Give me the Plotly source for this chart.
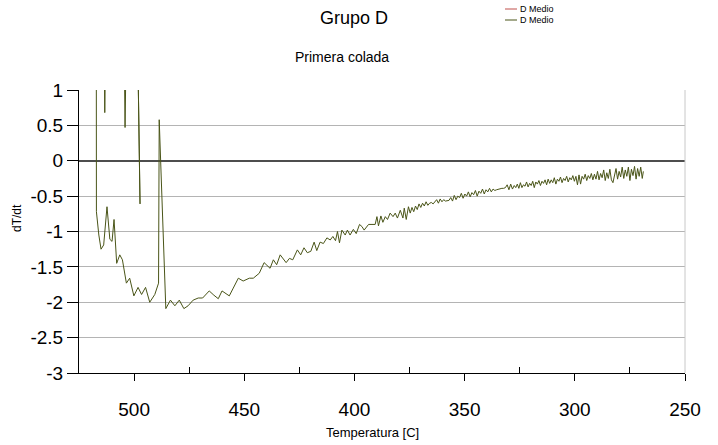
import plotly.graph_objects as go

# ---------------- data ----------------
temperatura = [
    499.0, 497.7, 497.3, 497.9, 499.5,
    503.0, 504.1, 504.9,
    512.6, 513.3, 513.9,
    517.2,
    517.1, 516.0, 515.0, 513.8, 512.3, 511.0, 510.0, 509.1, 507.9, 506.5,
    505.3, 503.5, 502.0, 500.1, 498.2, 496.6, 494.8, 492.9, 490.6, 488.9,
    488.6, 485.6, 483.5, 481.5, 479.5, 477.4, 475.5, 473.2, 470.9, 468.9,
    465.9, 463.8, 461.8, 460.1, 456.8, 455.0, 452.7, 450.5, 447.7, 445.9,
    443.2, 441.0, 438.3, 436.8, 435.3, 433.7, 431.0, 429.5, 428.0, 425.9,
    424.4, 422.9, 421.4, 419.8, 418.3, 417.1, 415.6, 414.1, 412.5, 411.0,
    409.8, 408.6, 407.7, 406.8, 405.7, 404.2, 403.2, 402.0, 400.5, 399.2,
    397.7, 396.6, 395.6, 393.6, 390.6, 389.8, 389.1, 388.0, 387.1, 386.0,
    385.0, 383.8, 382.5, 381.5, 380.5, 379.2, 378.0, 377.4, 376.5, 375.5,
    374.7,
    373.9, 373.1, 372.3, 371.5, 370.7, 369.9, 369.1, 368.3, 367.5, 366.7,
    365.9, 365.1, 364.3, 363.5, 362.7, 361.9, 361.1, 360.3, 359.5, 358.7,
    357.9, 357.1, 356.3, 355.5, 354.7, 353.9, 353.1, 352.3, 351.5, 350.7,
    349.9, 349.1, 348.3, 347.5, 346.7, 345.9, 345.1, 344.3, 343.5, 342.7,
    341.9, 341.1, 340.3, 339.5, 338.7, 337.9, 337.1, 336.3, 335.5, 334.7,
    333.9, 333.1, 332.3, 331.5, 330.7, 329.9, 329.1, 328.3, 327.5, 326.8,
    326.1, 325.4, 324.7, 324.0, 323.3, 322.6, 321.9, 321.2, 320.5, 319.8,
    319.1, 318.4, 317.7, 317.0, 316.3, 315.6, 314.9, 314.2, 313.5, 312.8,
    312.1, 311.4, 310.7, 310.0, 309.3, 308.6, 307.9, 307.2, 306.5, 305.8,
    305.1, 304.4, 303.7, 303.0, 302.3, 301.6, 300.9, 300.2, 299.5, 298.8,
    298.1, 297.4, 296.7, 296.0, 295.3, 294.6, 293.9, 293.2, 292.5, 291.8,
    291.1, 290.4, 289.7, 289.0, 288.3, 287.6, 286.9, 286.2, 285.5, 284.8,
    284.1, 283.4, 282.7, 282.0, 281.3, 280.6, 279.9, 279.2, 278.5, 277.8,
    277.1, 276.4, 275.7, 275.0, 274.3, 273.6, 272.9, 272.2, 271.5, 270.8,
    270.1, 269.4, 268.9,
]

dT_dt = [
    3.0, 0.60, -0.61, 0.80, 4.0,
    3.0, 0.47, 2.8,
    2.6, 0.68, 2.6,
    4.0,
    -0.72, -1.05, -1.25, -1.19, -0.65, -1.11, -1.14, -0.83, -1.45, -1.33,
    -1.40, -1.73, -1.66, -1.91, -1.79, -1.89, -1.79, -2.00, -1.89, -1.73,
    0.58, -2.09, -1.97, -2.05, -1.97, -2.09, -2.05, -1.97, -1.94, -1.94,
    -1.84, -1.90, -1.95, -1.84, -1.91, -1.80, -1.66, -1.70, -1.66, -1.66,
    -1.59, -1.44, -1.52, -1.40, -1.47, -1.33, -1.44, -1.38, -1.40, -1.26,
    -1.33, -1.23, -1.30, -1.28, -1.15, -1.27, -1.15, -1.17, -1.09, -1.12,
    -1.07, -1.13, -1.00, -1.16, -0.98, -1.05, -0.98, -1.05, -0.97, -1.03,
    -0.90, -0.93, -0.98, -0.90, -0.90, -0.79, -0.92, -0.78, -0.87, -0.79,
    -0.83, -0.74, -0.79, -0.74, -0.81, -0.70, -0.81, -0.67, -0.83, -0.65,
    -0.74,
    -0.66, -0.72, -0.64, -0.69, -0.61, -0.66, -0.60, -0.64, -0.58, -0.63,
    -0.60, -0.59, -0.61, -0.58, -0.55, -0.60, -0.54, -0.58, -0.55, -0.57,
    -0.57, -0.56, -0.52, -0.57, -0.49, -0.55, -0.50, -0.52, -0.46, -0.53,
    -0.47, -0.50, -0.44, -0.51, -0.45, -0.48, -0.42, -0.50, -0.43, -0.46,
    -0.40, -0.47, -0.41, -0.44, -0.39, -0.44, -0.40, -0.42, -0.41, -0.40,
    -0.40, -0.39, -0.39, -0.38, -0.34, -0.41, -0.33, -0.40, -0.35, -0.38,
    -0.33, -0.39, -0.31, -0.38, -0.34, -0.36, -0.30, -0.37, -0.32, -0.35,
    -0.29, -0.38, -0.30, -0.33, -0.28, -0.35, -0.29, -0.32, -0.27, -0.34,
    -0.26, -0.32, -0.27, -0.31, -0.24, -0.33, -0.26, -0.29, -0.23, -0.31,
    -0.25, -0.28, -0.22, -0.30, -0.24, -0.27, -0.21, -0.29, -0.22, -0.34,
    -0.20, -0.33, -0.22, -0.26, -0.19, -0.28, -0.21, -0.25, -0.18, -0.27,
    -0.19, -0.26, -0.15, -0.27, -0.18, -0.24, -0.13, -0.28, -0.17, -0.25,
    -0.12, -0.27, -0.31, -0.21, -0.11, -0.26, -0.15, -0.23, -0.09, -0.25,
    -0.13, -0.22, -0.09, -0.28, -0.12, -0.21, -0.08, -0.26, -0.11, -0.22,
    -0.09, -0.25, -0.15,
]

x_tickvals = [500, 450, 400, 350, 300, 250]
x_minorvals = [475, 425, 375, 325, 275]
y_tickvals = [1, 0.5, 0, -0.5, -1, -1.5, -2, -2.5, -3]
y_ticktext = ["1", "0.5", "0", "-0.5", "-1", "-1.5", "-2", "-2.5", "-3"]

series_names = ["D Medio", "D Medio"]
series_colors = ["#c0504d", "#4a5518"]

titulo = "Grupo D"
subtitulo = "Primera colada"
x_title = "Temperatura [C]"
y_title = "dT/dt"

# ---------------- figure ----------------
W, H = 718, 445
ML, MR, MT, MB = 79, 33, 90, 72
PW, PH = W - ML - MR, H - MT - MB


def px_x(p):
    return (p - ML) / PW


def px_y(p):
    return (H - MB - p) / PH


FONT = "Liberation Sans, Arial, sans-serif"

fig = go.Figure()
# first "D Medio" series lies completely underneath the second one
fig.add_trace(go.Scatter(
    x=temperatura, y=dT_dt, mode="lines", name=series_names[0],
    line=dict(color=series_colors[0], width=1), showlegend=False,
    visible="legendonly", hoverinfo="skip",
))
fig.add_trace(go.Scatter(
    x=temperatura, y=dT_dt, mode="lines", name=series_names[1],
    line=dict(color=series_colors[1], width=1), showlegend=False,
    hoverinfo="skip",
))

annotations = [
    dict(text=titulo, x=px_x(354), y=px_y(18), font=dict(size=18)),
    dict(text=subtitulo, x=px_x(342), y=px_y(57), font=dict(size=14)),
    dict(text=x_title, x=px_x(372), y=px_y(432), font=dict(size=13)),
    dict(text=y_title, x=px_x(17), y=px_y(218), font=dict(size=12), textangle=-90),
]
shapes = [
    dict(type="line", xref="paper", yref="paper", x0=1, x1=1, y0=0, y1=1,
         line=dict(color="#c8c8c8", width=1)),
]
leg_y = [9, 20]
for i, (name, col) in enumerate(zip(series_names, series_colors)):
    annotations.append(dict(text=name, x=px_x(518), y=px_y(leg_y[i]),
                            xanchor="left", font=dict(size=9)))
    shapes.append(dict(type="line", xref="paper", yref="paper",
                       x0=px_x(505), x1=px_x(517),
                       y0=px_y(leg_y[i]), y1=px_y(leg_y[i]),
                       line=dict(color=col, width=1)))

for a in annotations:
    a.setdefault("xref", "paper")
    a.setdefault("yref", "paper")
    a.setdefault("showarrow", False)
    a.setdefault("xanchor", "center")
    a.setdefault("yanchor", "middle")
    a["font"]["family"] = FONT
    a["font"]["color"] = "black"

fig.update_layout(
    width=W, height=H,
    margin=dict(l=ML, r=MR, t=MT, b=MB, pad=0),
    paper_bgcolor="white", plot_bgcolor="white",
    font=dict(family=FONT, color="black"),
    showlegend=False,
    annotations=annotations,
    shapes=shapes,
    xaxis=dict(
        range=[525, 250], tickvals=x_tickvals,
        ticks="outside", ticklen=7, tickcolor="black", tickwidth=1,
        ticklabelstandoff=12,
        showline=True, linecolor="black", linewidth=1,
        showgrid=False, zeroline=False,
        tickfont=dict(size=19),
        minor=dict(tickvals=x_minorvals, ticks="inside", ticklen=6,
                   tickcolor="black", tickwidth=1, showgrid=False),
    ),
    yaxis=dict(
        range=[-3, 1], tickvals=y_tickvals, ticktext=y_ticktext,
        ticks="outside", ticklen=11, tickcolor="black", tickwidth=1,
        showline=True, linecolor="black", linewidth=1,
        showgrid=True, gridcolor="#b4b4b4", gridwidth=1,
        zeroline=True, zerolinecolor="#4d4d4d", zerolinewidth=2,
        tickfont=dict(size=19),
    ),
)

fig.write_html("out.html")
